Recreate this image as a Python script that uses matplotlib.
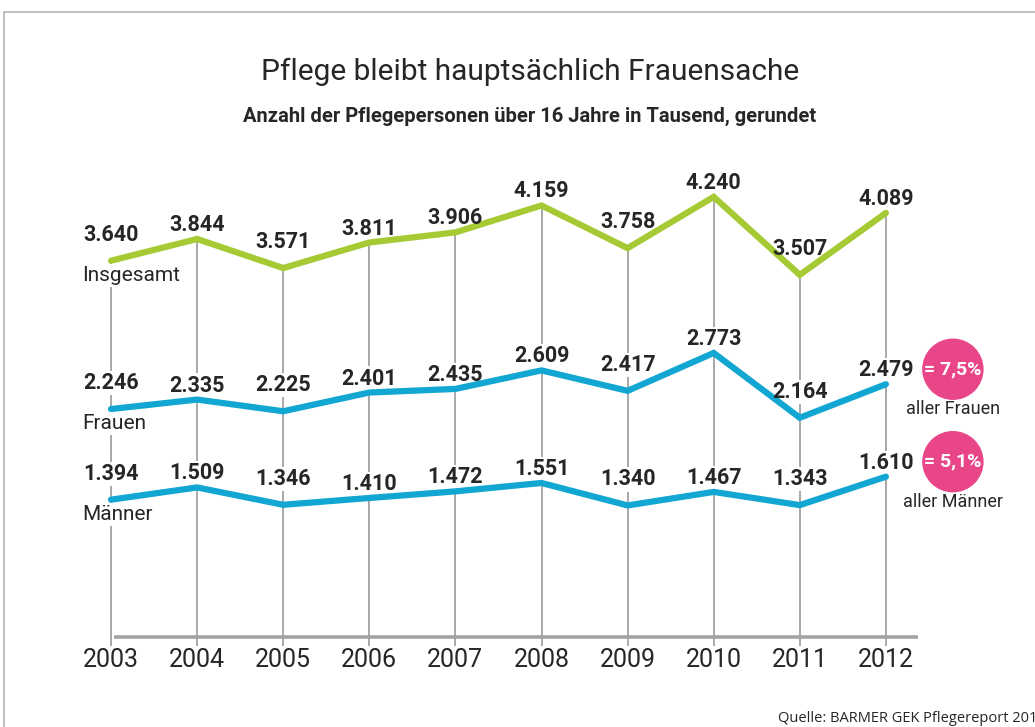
import matplotlib
matplotlib.use("agg")
import matplotlib.pyplot as plt
from matplotlib.patches import Rectangle, Ellipse

# data
years = [2003, 2004, 2005, 2006, 2007, 2008, 2009, 2010, 2011, 2012]
insgesamt = [3640, 3844, 3571, 3811, 3906, 4159, 3758, 4240, 3507, 4089]
frauen = [2246, 2335, 2225, 2401, 2435, 2609, 2417, 2773, 2164, 2479]
maenner = [1394, 1509, 1346, 1410, 1472, 1551, 1340, 1467, 1343, 1610]
series_names = ["Insgesamt", "Frauen", "Männer"]
share_texts = ["= 7,5%", "= 5,1%"]
share_labels = ["aller Frauen", "aller Männer"]
title = "Pflege bleibt hauptsächlich Frauensache"
subtitle = "Anzahl der Pflegepersonen über 16 Jahre in Tausend, gerundet"
source = "Quelle: BARMER GEK Pflegereport 2013"

GREEN = "#a6ca34"
BLUE = "#12a6d2"
PINK = "#e9468a"
GRAY = "#a3a3a3"
DARK = "#262626"
FONT = ["Roboto", "DejaVu Sans"]

plt.rcParams['font.family'] = FONT

W, H = 1035, 727
fig = plt.figure(figsize=(W / 100, H / 100), dpi=100)
ax = fig.add_axes([0, 0, 1, 1])
ax.set_axis_off()

# pixel mapping: year 2003 -> x=111, step 86.1 px; value v -> y = 648 - 0.1064*v
step = 86.1
ax.set_xlim(2003 - 111 / step, 2003 + (W - 111) / step)
ax.set_ylim((648 - H) / 0.1064, 648 / 0.1064)

def px(dx):
    return dx / step

def py(dy):
    return dy / 0.1064

# frame
fig.patches.append(Rectangle((4 / W, -0.1), 1.2, 1.1 - 12 / H, transform=fig.transFigure,
                             fill=False, edgecolor="#b3b3b3", linewidth=1.2))

axis_y = py(648 - 637)
# vertical guide lines
for x, top in zip(years, insgesamt):
    ax.plot([x, x], [axis_y - py(9), top], color=GRAY, lw=1.3, zorder=1,
            solid_capstyle='butt')
# axis line
ax.plot([years[0] + px(3), years[-1] + px(32)], [axis_y, axis_y], color=GRAY, lw=2.6,
        zorder=1, solid_capstyle='butt')
for x in years:
    ax.text(x, axis_y - py(11), str(x), ha='center', va='top', fontsize=18,
            color=DARK)

# lines
for vals, col in zip([insgesamt, frauen, maenner], [GREEN, BLUE, BLUE]):
    ax.plot(years, vals, color=col, lw=4.5, zorder=3, solid_capstyle='round',
            solid_joinstyle='miter')
    for i, (x, v) in enumerate(zip(years, vals)):
        lbl = f"{v / 1000:.3f}"
        prev_v = vals[i - 1] if i > 0 else v + 1
        next_v = vals[i + 1] if i < len(vals) - 1 else v + 1
        valley = v < prev_v and v < next_v
        off = 26 if valley else 14  # pixels
        ax.annotate(lbl, (x, v), xytext=(0, off * 0.72), textcoords='offset points',
                    ha='center', va='center', fontsize=15.5, fontweight='bold',
                    color=DARK, zorder=4)
        ax.annotate(lbl, (x, v), xytext=(0, off * 0.72), textcoords='offset points',
                    ha='center', va='center', fontsize=15.5, fontweight='bold',
                    color='white', zorder=2,
                    bbox=dict(boxstyle='square,pad=0.05', fc='white', ec='none'))

# series names
for name, vals in zip(series_names, [insgesamt, frauen, maenner]):
    ax.text(years[0] - px(29), vals[0] - py(5), name, ha='left', va='top',
            fontsize=15, color=DARK, zorder=4,
            bbox=dict(boxstyle='square,pad=0.1', fc='white', ec='none'))

# pink circles
for txt, lbl, vals in zip(share_texts, share_labels, [frauen, maenner]):
    cx = years[-1] + px(67)
    cy = vals[-1] + py(15)
    ax.add_patch(Ellipse((cx, cy), px(60), py(60), color=PINK, zorder=5))
    ax.text(cx, cy, txt, ha='center', va='center', fontsize=14, color='white',
            fontweight='bold', zorder=6)
    ax.text(cx, cy - py(40), lbl, ha='center', va='center', fontsize=13,
            color=DARK, zorder=6)

fig.text(530 / W, 1 - 72 / H, title, ha='center', va='center', fontsize=21.5,
         color=DARK)
fig.text(530 / W, 1 - 116 / H, subtitle, ha='center', va='center', fontsize=14.5,
         color=DARK, fontweight='bold')
fig.text(778 / W, 1 - 719 / H, source, ha='left', va='center', fontsize=10.5,
         color=DARK, family=["Open Sans", "DejaVu Sans"])

fig.savefig("out.png", dpi=100)
